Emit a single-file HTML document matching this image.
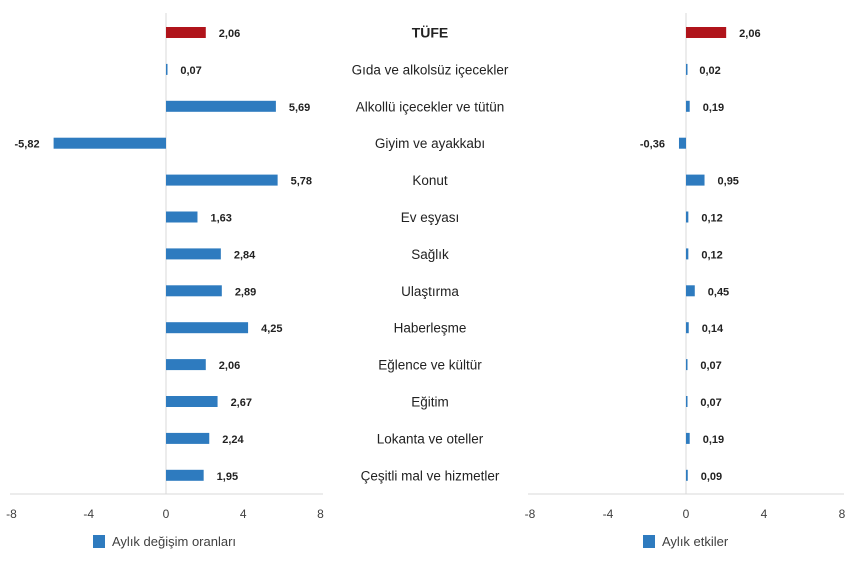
<!DOCTYPE html>
<html><head><meta charset="utf-8"><style>
body{margin:0;background:#fff;font-family:"Liberation Sans",Arial,sans-serif}
svg text{font-family:"Liberation Sans",Arial,sans-serif}
</style></head><body>
<svg id="c" width="850" height="558" xmlns="http://www.w3.org/2000/svg"></svg>
<script>
const categories=["TÜFE","Gıda ve alkolsüz içecekler","Alkollü içecekler ve tütün","Giyim ve ayakkabı","Konut","Ev eşyası","Sağlık","Ulaştırma","Haberleşme","Eğlence ve kültür","Eğitim","Lokanta ve oteller","Çeşitli mal ve hizmetler"];
const changeValues=[2.06,0.07,5.69,-5.82,5.78,1.63,2.84,2.89,4.25,2.06,2.67,2.24,1.95];
const effectValues=[2.06,0.02,0.19,-0.36,0.95,0.12,0.12,0.45,0.14,0.07,0.07,0.19,0.09];
const tickLabels=[-8,-4,0,4,8];
const svg=document.getElementById('c');
const NS='http://www.w3.org/2000/svg';
function mk(t,a,p){const e=document.createElementNS(NS,t);for(const k in a)e.setAttribute(k,a[k]);(p||svg).appendChild(e);return e;}
const rowY=i=>32.5+i*36.9;
const fmt=v=>v.toFixed(2).replace('.',',');
function panel(x0,xMinPx,xMaxPx,vals,legendX,legendText,pname){
  const sx=v=>x0+v*(xMaxPx-xMinPx)/16;
  const g=mk('g',{});
  
  
  let l=mk('line',{x1:xMinPx-2,x2:xMaxPx+2,y1:494,y2:494,stroke:'#d9d9d9'},g);
  
  l=mk('line',{x1:x0,x2:x0,y1:13,y2:494,stroke:'#d9d9d9'},g);
  
  tickLabels.forEach(t=>{const e=mk('text',{x:sx(t),y:518,'text-anchor':'middle','font-size':12,fill:'#404040'},g);e.textContent=t;
    });
  vals.forEach((v,i)=>{const y=rowY(i);const a=sx(Math.min(0,v)),b=sx(Math.max(0,v));
    const r=mk('rect',{x:a,y:y-5.5,width:Math.max(b-a,1.5),height:11,fill:i==0?'#b0141b':'#2e7bbf'},g);
    
    const t=mk('text',{x:v<0?a-14:b+13,y:y+4.5,'text-anchor':v<0?'end':'start','font-size':11,'font-weight':'bold',fill:'#222'},g);
    t.textContent=fmt(v);});
  const lr=mk('rect',{x:legendX,y:535,width:12,height:13,fill:'#2e7bbf'},g);
  
  const lt=mk('text',{x:legendX+19,y:546,'font-size':13,fill:'#404040'},g);lt.textContent=legendText;
  
}
panel(166,12,321,changeValues,93,'Aylık değişim oranları','change-chart');
panel(686,530,842,effectValues,643,'Aylık etkiler','effect-chart');
categories.forEach((c,i)=>{const t=mk('text',{x:430,y:rowY(i)+5,'text-anchor':'middle','font-size':i==0?14:13.5,'font-weight':i==0?'bold':'normal',fill:'#222'});
  t.textContent=c;});
</script>
</body></html>
